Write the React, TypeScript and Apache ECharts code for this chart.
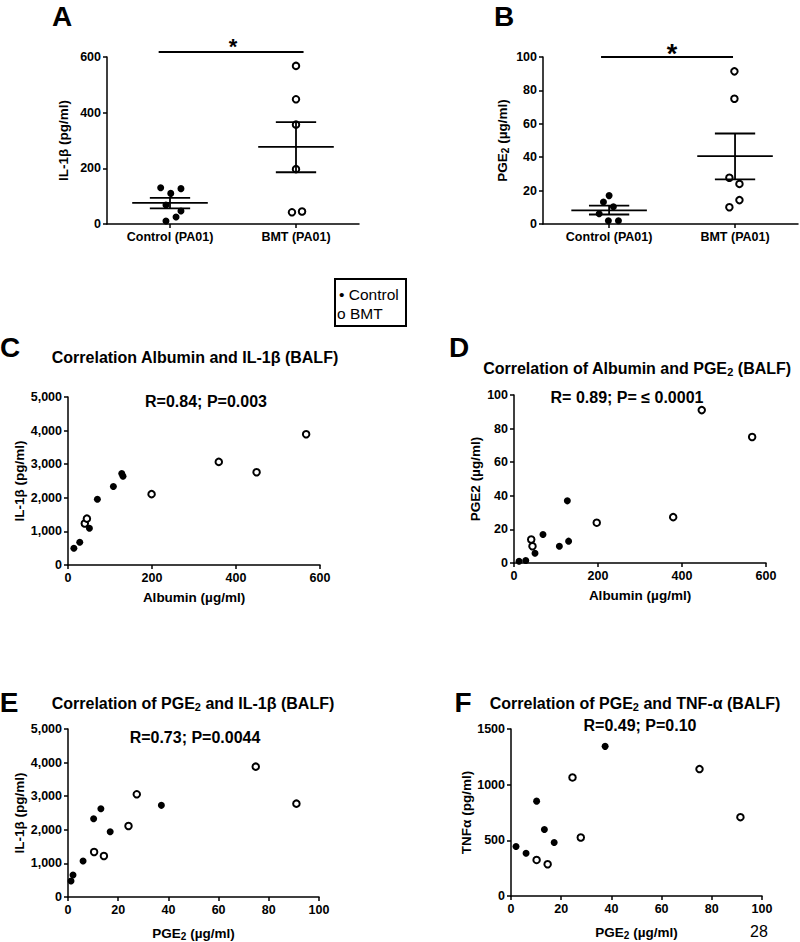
import React, { useEffect, useRef } from 'react';
import * as echarts from 'echarts';

const FONT = '"Liberation Sans", Arial, Helvetica, sans-serif';

// ---------- Panel A / B: group dot plots ----------
const groupLabels = ['Control (PA01)', 'BMT (PA01)'];
const groupPos = [0.5, 1.5];

const aControlX = [0.426, 0.587, 0.506, 0.468, 0.587, 0.548, 0.468];
const aControlY = [130, 127, 110, 68, 47, 25, 11];
const aBmtX = [1.5, 1.5, 1.5, 1.5, 1.468, 1.548];
const aBmtY = [568, 448, 357, 197, 42, 45];
const aMean = [76, 277];
const aSemLow = [56, 186];
const aSemHigh = [94, 366];
const aSigX = [0.41, 1.56];
const aSigY = 618;

const bControlX = [0.5, 0.455, 0.534, 0.421, 0.494, 0.574];
const bControlY = [17, 13.2, 10.3, 6.1, 1.9, 1.9];
const bBmtX = [1.495, 1.495, 1.455, 1.535, 1.535, 1.455];
const bBmtY = [91.4, 75, 27.7, 24, 14.3, 10];
const bMean = [8.2, 40.6];
const bSemLow = [5.7, 26.7];
const bSemHigh = [11, 54.2];
const bSigX = [0.436, 1.484];
const bSigY = 100;

// ---------- Panel C: Albumin vs IL-1β ----------
const cControl = [[14, 500], [28, 675], [51, 1095], [70, 1957], [108, 2335], [128, 2723], [131, 2644]];
const cBmt = [[40, 1235], [45, 1380], [199, 2109], [359, 3069], [449, 2762], [567, 3891]];

// ---------- Panel D: Albumin vs PGE2 ----------
const dControl = [[12, 1], [28, 1.5], [50, 5.8], [69, 17], [108, 10], [127, 37], [130, 13]];
const dBmt = [[41, 14], [44, 10], [197, 24], [379, 27.3], [447, 91], [567, 75]];

// ---------- Panel E: PGE2 vs IL-1β ----------
const eControl = [[1.2, 476], [2, 655], [6, 1071], [10.2, 2331], [13.1, 2629], [16.8, 1944], [37.2, 2728]];
const eBmt = [[10.4, 1339], [14.3, 1220], [24.1, 2113], [27.4, 3056], [74.8, 3879], [91, 2778]];

// ---------- Panel F: PGE2 vs TNF-α ----------
const fControl = [[2, 444], [6, 384], [10.2, 852], [13.3, 597], [17.2, 480], [37.5, 1344]];
const fBmt = [[10.2, 324], [14.6, 285], [24.5, 1065], [27.8, 525], [75.1, 1140], [91.4, 708]];

const MEAN_HALF = 0.3;
const SEM_HALF = 0.16;

const zip = (xs: number[], ys: number[]) => xs.map((x, i) => [x, ys[i]]);

const subRich = (size: number, drop: number) => ({
  sub: { fontSize: size, fontWeight: 'bold', fontFamily: FONT, color: '#000', fill: '#000', padding: [drop, 0, 0, 0] },
});

const lineStyle = { color: '#000', width: 1.5 };

const tickLabel = {
  color: '#000',
  fontSize: 12.5,
  fontWeight: 'bold',
  fontFamily: FONT,
  margin: 6,
};

const nameStyle = {
  color: '#000',
  fontSize: 13.5,
  fontWeight: 'bold',
  fontFamily: FONT,
  rich: subRich(10, 6),
};

const plain = (v: number) => String(v);
const comma = (v: number) => v.toLocaleString('en-US');
const groupFmt = (v: number) => groupLabels[groupPos.indexOf(v)] || '';

function makeAxis(gridIndex: number, o: any) {
  return {
    type: 'value',
    gridIndex,
    min: o.min,
    max: o.max,
    interval: o.interval,
    name: o.name,
    nameLocation: 'middle',
    nameGap: o.nameGap,
    nameTextStyle: nameStyle,
    axisLine: { show: true, onZero: false, lineStyle },
    axisTick: { show: true, length: 4, lineStyle, customValues: o.custom },
    axisLabel: { ...tickLabel, formatter: o.formatter || plain, customValues: o.custom },
    splitLine: { show: false },
  };
}

function filled(xi: number, data: number[][]) {
  return {
    type: 'scatter', name: 'Control', xAxisIndex: xi, yAxisIndex: xi, data,
    symbol: 'circle', symbolSize: 7, itemStyle: { color: '#000', opacity: 1 }, z: 3,
  };
}
function open(xi: number, data: number[][]) {
  return {
    type: 'scatter', name: 'BMT', xAxisIndex: xi, yAxisIndex: xi, data,
    symbol: 'circle', symbolSize: 6.5,
    itemStyle: { color: '#fff', borderColor: '#000', borderWidth: 2, opacity: 1 }, z: 3,
  };
}
function stats(xi: number, mean: number[], lo: number[], hi: number[]) {
  return {
    type: 'custom', xAxisIndex: xi, yAxisIndex: xi, z: 4,
    data: groupPos.map((p, i) => [p, mean[i], lo[i], hi[i]]),
    renderItem: (_p: any, api: any) => {
      const x = api.value(0);
      const m = api.coord([x, api.value(1)]);
      const l = api.coord([x, api.value(2)]);
      const h = api.coord([x, api.value(3)]);
      const wm = api.size([MEAN_HALF, 0])[0];
      const ws = api.size([SEM_HALF, 0])[0];
      const st = { stroke: '#000', lineWidth: 1.8 };
      return {
        type: 'group',
        children: [
          { type: 'line', shape: { x1: m[0] - wm, y1: m[1], x2: m[0] + wm, y2: m[1] }, style: st },
          { type: 'line', shape: { x1: h[0], y1: h[1], x2: l[0], y2: l[1] }, style: st },
          { type: 'line', shape: { x1: h[0] - ws, y1: h[1], x2: h[0] + ws, y2: h[1] }, style: st },
          { type: 'line', shape: { x1: l[0] - ws, y1: l[1], x2: l[0] + ws, y2: l[1] }, style: st },
        ],
      };
    },
  };
}
function sigBar(xi: number, xs: number[], y: number) {
  return {
    type: 'line', xAxisIndex: xi, yAxisIndex: xi, clip: false, symbol: 'none',
    data: xs.map((x) => [x, y]), lineStyle: { color: '#000', width: 2 }, z: 5,
  };
}

function txt(text: string, x: number, y: number, size: number, weight = 'bold', align = 'center', extra: any = {}) {
  return {
    type: 'text', x, y, silent: true,
    style: {
      text, align, verticalAlign: 'middle', fontSize: size, fontWeight: weight,
      fontFamily: FONT, fill: '#000', ...extra,
    },
  };
}

export default function App() {
  const ref = useRef<HTMLDivElement>(null);
  useEffect(() => {
    if (!ref.current) return;
    const chart = echarts.init(ref.current, undefined, { renderer: 'svg' });
    const titleRich = { rich: subRich(11, 7) };
    const option: any = {
      animation: false,
      backgroundColor: '#fff',
      grid: [
        { left: 107, top: 57, width: 252, height: 167 },
        { left: 543, top: 57, width: 255, height: 167 },
        { left: 68, top: 397, width: 252, height: 168 },
        { left: 514, top: 395, width: 252, height: 168 },
        { left: 68, top: 729, width: 251, height: 168 },
        { left: 511, top: 729, width: 251, height: 167 },
      ],
      xAxis: [
        makeAxis(0, { min: 0, max: 2, custom: groupPos, formatter: groupFmt }),
        makeAxis(1, { min: -0.025, max: 2, custom: groupPos, formatter: groupFmt }),
        makeAxis(2, { min: 0, max: 600, interval: 200, name: 'Albumin (µg/ml)', nameGap: 25 }),
        makeAxis(3, { min: 0, max: 600, interval: 200, name: 'Albumin (µg/ml)', nameGap: 25 }),
        makeAxis(4, { min: 0, max: 100, interval: 20, name: 'PGE{sub|2} (µg/ml)', nameGap: 28 }),
        makeAxis(5, { min: 0, max: 100, interval: 20, name: 'PGE{sub|2} (µg/ml)', nameGap: 28 }),
      ],
      yAxis: [
        makeAxis(0, { min: 0, max: 600, interval: 200, name: 'IL-1β (pg/ml)', nameGap: 37 }),
        makeAxis(1, { min: 0, max: 100, interval: 20, name: 'PGE{sub|2} (µg/ml)', nameGap: 33 }),
        makeAxis(2, { min: 0, max: 5000, interval: 1000, name: 'IL-1β (pg/ml)', nameGap: 42, formatter: comma }),
        makeAxis(3, { min: 0, max: 100, interval: 20, name: 'PGE2 (µg/ml)', nameGap: 32 }),
        makeAxis(4, { min: 0, max: 5000, interval: 1000, name: 'IL-1β (pg/ml)', nameGap: 42, formatter: comma }),
        makeAxis(5, { min: 0, max: 1500, interval: 500, name: 'TNFα (pg/ml)', nameGap: 36, formatter: plain }),
      ],
      series: [
        filled(0, zip(aControlX, aControlY)),
        open(0, zip(aBmtX, aBmtY)),
        stats(0, aMean, aSemLow, aSemHigh),
        sigBar(0, aSigX, aSigY),
        filled(1, zip(bControlX, bControlY)),
        open(1, zip(bBmtX, bBmtY)),
        stats(1, bMean, bSemLow, bSemHigh),
        sigBar(1, bSigX, bSigY),
        filled(2, cControl),
        open(2, cBmt),
        filled(3, dControl),
        open(3, dBmt),
        filled(4, eControl),
        open(4, eBmt),
        filled(5, fControl),
        open(5, fBmt),
      ],
      graphic: [
        // panel letters
        txt('A', 62, 16, 28),
        txt('B', 504, 16, 28),
        txt('C', 10, 347, 28),
        txt('D', 459, 347, 28),
        txt('E', 9, 702, 28),
        txt('F', 463, 702, 28),
        // significance stars
        txt('*', 233, 46, 22),
        txt('*', 672, 54, 27),
        // legend
        {
          type: 'rect', silent: true,
          shape: { x: 335, y: 279, width: 71, height: 47 },
          style: { fill: '#fff', stroke: '#000', lineWidth: 2 },
        },
        txt('• Control', 339, 294, 15.5, 'normal', 'left'),
        txt('o BMT', 337, 313, 15.5, 'normal', 'left'),
        // titles
        txt('Correlation Albumin and IL-1β (BALF)', 195, 357, 16, 'bold', 'center', titleRich),
        txt('Correlation of Albumin and PGE{sub|2} (BALF)', 637, 368, 16, 'bold', 'center', titleRich),
        txt('Correlation of PGE{sub|2} and IL-1β (BALF)', 193, 703, 16, 'bold', 'center', titleRich),
        txt('Correlation of PGE{sub|2} and TNF-α (BALF)', 635, 703, 16, 'bold', 'center', titleRich),
        // statistics
        txt('R=0.84; P=0.003', 206, 401, 16),
        txt('R= 0.89; P= ≤ 0.0001', 627, 397, 16),
        txt('R=0.73; P=0.0044', 195, 737, 16),
        txt('R=0.49; P=0.10', 640, 725, 16),
        // page number
        txt('28', 759, 931, 16, 'normal'),
      ],
    };
    chart.setOption(option);
    return () => chart.dispose();
  }, []);
  return (
    <div
      ref={ref}
      style={{ position: 'absolute', left: 0, top: 0, width: 800, height: 942, background: '#fff' }}
    />
  );
}
